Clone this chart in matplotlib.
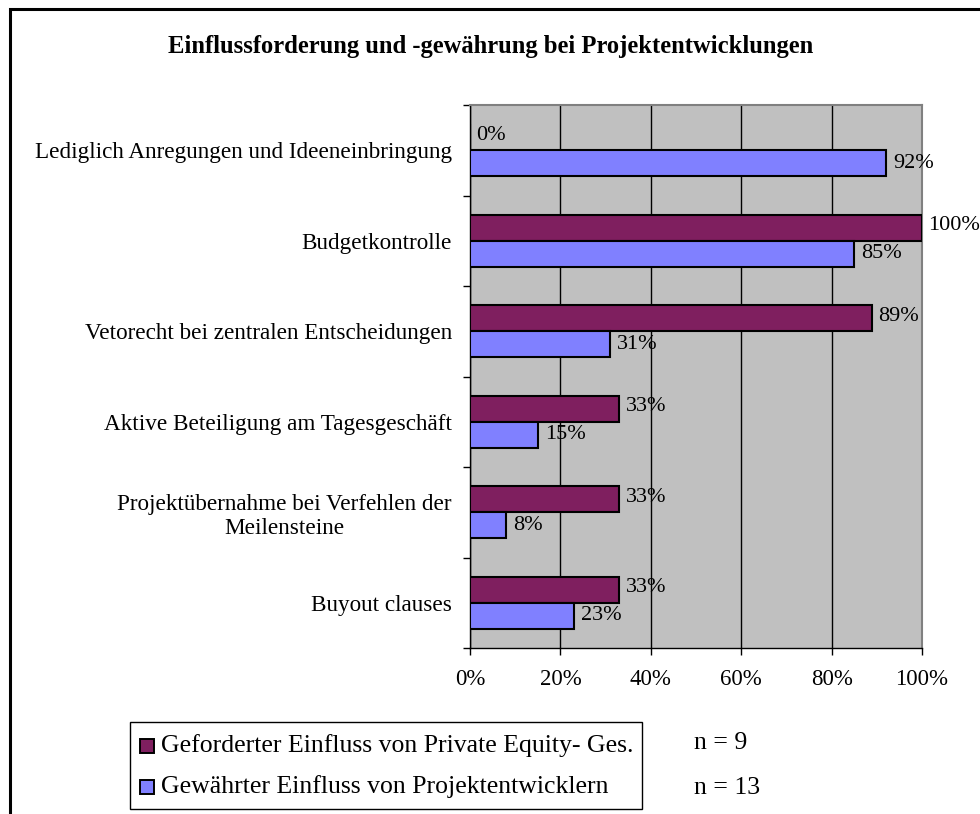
import numpy as np
import matplotlib.pyplot as plt
from matplotlib.patches import Rectangle

# Data
categories = [
    "Lediglich Anregungen und Ideeneinbringung",
    "Budgetkontrolle",
    "Vetorecht bei zentralen Entscheidungen",
    "Aktive Beteiligung am Tagesgeschäft",
    "Projektübernahme bei Verfehlen der\nMeilensteine",
    "Buyout clauses",
]
gefordert = [0, 100, 89, 33, 33, 33]   # Private Equity-Ges., n = 9
gewaehrt = [92, 85, 31, 15, 8, 23]     # Projektentwickler, n = 13
series_names = ["Geforderter Einfluss von Private Equity- Ges.",
                "Gewährter Einfluss von Projektentwicklern"]
sample_sizes = ["n = 9", "n = 13"]
xticks = [0, 20, 40, 60, 80, 100]

plt.rcParams['font.family'] = ['Liberation Serif', 'DejaVu Serif']

W, H = 980, 814
col_ge = "#7F1F5F"
col_gw = "#8080FF"


def fx(px):
    return px / W


def fy(py):
    return 1 - py / H


fig = plt.figure(figsize=(9.8, 8.14), dpi=100)
ax = fig.add_axes([fx(470), fy(648), (922 - 470) / W, (648 - 105) / H])

y = np.arange(len(categories))
h = 0.287
ax.barh(y - h / 2, gefordert, height=h, color=col_ge, edgecolor="black",
        linewidth=1.5, zorder=3)
ax.barh(y + h / 2, gewaehrt, height=h, color=col_gw, edgecolor="black",
        linewidth=1.5, zorder=3)

for i in range(len(categories)):
    ax.text(gefordert[i] + 1.4, y[i] - h / 2 - 0.02, f"{gefordert[i]}%",
            va="center", ha="left", fontsize=16, zorder=4, clip_on=False)
    ax.text(gewaehrt[i] + 1.6, y[i] + h / 2, f"{gewaehrt[i]}%",
            va="center", ha="left", fontsize=16, zorder=4, clip_on=False)

ax.set_xlim(0, 100)
ax.set_ylim(len(categories) - 0.5, -0.5)
ax.set_facecolor("#C0C0C0")
ax.set_xticks(xticks)
ax.set_xticklabels([f"{v}%" for v in xticks], fontsize=16.5)
ax.xaxis.grid(True, color="black", linewidth=1, zorder=1)
ax.set_axisbelow(True)

# category labels centred on categories, tick marks on boundaries
ax.set_yticks(y)
ax.set_yticklabels(categories, fontsize=16.7, multialignment="center")
ax.tick_params(axis="y", length=0, pad=13)
ax.set_yticks(np.arange(len(categories) + 1) - 0.5, minor=True)
ax.tick_params(axis="y", which="minor", length=5, width=1, direction="out")
ax.tick_params(axis="x", length=5, width=1, direction="out", pad=10)

for s in ["left", "bottom"]:
    ax.spines[s].set_color("black")
    ax.spines[s].set_linewidth(1)
ax.spines["right"].set_color("#808080")
ax.spines["right"].set_linewidth(1.5)
ax.spines["top"].set_color("#808080")
ax.spines["top"].set_linewidth(1.5)

fig.text(fx(491), fy(47), "Einflussforderung und -gewährung bei Projektentwicklungen",
         ha="center", va="center", fontsize=17.7, fontweight="bold")

# outer chart frame
fig.patches.append(Rectangle((fx(10), -0.05), 1.0, fy(9) + 0.05,
                             transform=fig.transFigure, fill=False,
                             edgecolor="black", linewidth=2.2))

# legend box drawn by hand
fig.patches.append(Rectangle((fx(130), fy(809)), (642 - 130) / W, (809 - 722) / H,
                             transform=fig.transFigure, fill=False,
                             edgecolor="black", linewidth=1))
rows_y = [746, 787]
n_y = [743, 788]
for name, colr, ry, n, ny in zip(series_names, [col_ge, col_gw], rows_y,
                                 sample_sizes, n_y):
    fig.patches.append(Rectangle((fx(140), fy(ry + 7)), 14 / W, 14 / H,
                                 transform=fig.transFigure, facecolor=colr,
                                 edgecolor="black", linewidth=1.4))
    fig.text(fx(161), fy(ry), name, ha="left", va="center", fontsize=18.5)
    fig.text(fx(694), fy(ny), n, ha="left", va="center", fontsize=18.5)

fig.savefig("out.png", dpi=100)
